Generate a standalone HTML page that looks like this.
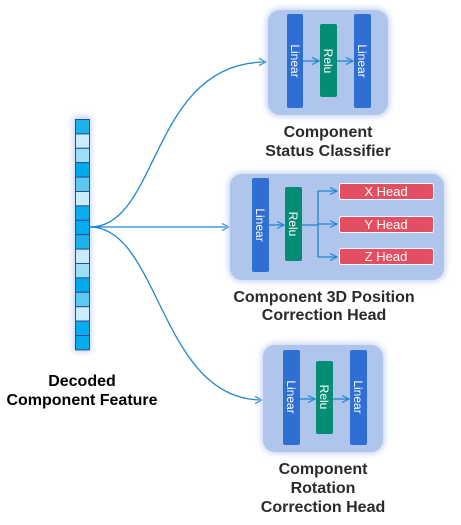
<!DOCTYPE html>
<html><head><meta charset="utf-8"><style>
html,body{margin:0;padding:0;background:#fff;width:461px;height:525px;overflow:hidden}
text{font-family:"Liberation Sans",Arial,sans-serif}
</style></head><body>
<svg width="461" height="525" xmlns="http://www.w3.org/2000/svg">
<defs>
<marker id="a" markerWidth="8" markerHeight="8" refX="7" refY="4" orient="auto" markerUnits="userSpaceOnUse">
<path d="M0,0.5 L7,4 L0,7.5" fill="none" stroke="#1f86d0" stroke-width="1.2"/></marker>
<filter id="g" x="-20%" y="-20%" width="140%" height="140%"><feGaussianBlur stdDeviation="3"/></filter>
</defs>
<rect x="73" y="116" width="18" height="236" fill="#c9d6f5" filter="url(#g)"/>
<g stroke="#2d4e8e" stroke-width="1">
<rect x="75.5" y="119.5" width="14" height="14.4" fill="#1cb2ee"/>
<rect x="75.5" y="133.9" width="14" height="14.4" fill="#c8ecfa"/>
<rect x="75.5" y="148.3" width="14" height="14.4" fill="#9adef7"/>
<rect x="75.5" y="162.7" width="14" height="14.4" fill="#02aaec"/>
<rect x="75.5" y="177.1" width="14" height="14.4" fill="#5bc9f2"/>
<rect x="75.5" y="191.5" width="14" height="14.4" fill="#c8ecfa"/>
<rect x="75.5" y="205.9" width="14" height="14.4" fill="#0aadec"/>
<rect x="75.5" y="220.3" width="14" height="14.4" fill="#05abec"/>
<rect x="75.5" y="234.7" width="14" height="14.4" fill="#1cb2ee"/>
<rect x="75.5" y="249.1" width="14" height="14.4" fill="#c8ecfa"/>
<rect x="75.5" y="263.5" width="14" height="14.4" fill="#9adef7"/>
<rect x="75.5" y="277.9" width="14" height="14.4" fill="#02aaec"/>
<rect x="75.5" y="292.3" width="14" height="14.4" fill="#5bc9f2"/>
<rect x="75.5" y="306.7" width="14" height="14.4" fill="#c8ecfa"/>
<rect x="75.5" y="321.1" width="14" height="14.4" fill="#0aadec"/>
<rect x="75.5" y="335.5" width="14" height="14.4" fill="#05abec"/>
</g>
<g fill="none" stroke="#1f86d0" stroke-width="1.3">
<path d="M90,227 C160,227 150,62 266,62" marker-end="url(#a)"/>
<path d="M90,227 L229,227" marker-end="url(#a)"/>
<path d="M90,227 C160,227 160,400 262,400" marker-end="url(#a)"/>
</g>
<rect x="266" y="8" width="124" height="109" rx="14" fill="#c9d6f5" filter="url(#g)"/>
<rect x="268" y="10" width="120" height="105" rx="12" fill="#afc5ec"/>
<rect x="287" y="14" width="16" height="94" rx="2" fill="#2f6fd3"/>
<rect x="320" y="24" width="17" height="73" rx="2" fill="#048c75"/>
<rect x="354" y="14" width="17" height="94" rx="2" fill="#2f6fd3"/>
<g fill="none" stroke="#1f86d0" stroke-width="1.3"><path d="M303,61 L319,61" marker-end="url(#a)"/><path d="M337,61 L353,61" marker-end="url(#a)"/></g>
<g fill="#fff" font-size="12"><text transform="translate(291,61) rotate(90)" text-anchor="middle">Linear</text><text transform="translate(324,61) rotate(90)" text-anchor="middle">Relu</text><text transform="translate(358,61) rotate(90)" text-anchor="middle">Linear</text></g>
<rect x="228" y="172" width="218" height="110" rx="14" fill="#c9d6f5" filter="url(#g)"/>
<rect x="230" y="174" width="214" height="106" rx="12" fill="#afc5ec"/>
<rect x="252" y="178" width="17" height="94" rx="2" fill="#2f6fd3"/>
<rect x="285" y="187" width="17" height="74" rx="2" fill="#048c75"/>
<g fill="none" stroke="#1f86d0" stroke-width="1.3">
<path d="M269,225 L284,225" marker-end="url(#a)"/>
<path d="M302,225 L318,225"/>
<path d="M318,191 L318,257"/>
<path d="M318,191 L337,191" marker-end="url(#a)"/>
<path d="M318,224 L337,224" marker-end="url(#a)"/>
<path d="M318,257 L337,257" marker-end="url(#a)"/>
</g>
<g stroke="#fff" stroke-width="1" fill="#e34e62">
<rect x="339.5" y="183.5" width="94" height="16" rx="2"/>
<rect x="339.5" y="216.5" width="94" height="16" rx="2"/>
<rect x="339.5" y="248.5" width="94" height="16" rx="2"/>
</g>
<g fill="#fff" font-size="13" text-anchor="middle"><text x="386" y="196">X Head</text><text x="386" y="229">Y Head</text><text x="386" y="261">Z Head</text></g>
<g fill="#fff" font-size="12"><text transform="translate(256,225) rotate(90)" text-anchor="middle">Linear</text><text transform="translate(289,224) rotate(90)" text-anchor="middle">Relu</text></g>
<rect x="261" y="343" width="124" height="111" rx="14" fill="#c9d6f5" filter="url(#g)"/>
<rect x="263" y="345" width="120" height="107" rx="12" fill="#afc5ec"/>
<rect x="283" y="350" width="17" height="95" rx="2" fill="#2f6fd3"/>
<rect x="316" y="361" width="17" height="73" rx="2" fill="#048c75"/>
<rect x="350" y="350" width="17" height="95" rx="2" fill="#2f6fd3"/>
<g fill="none" stroke="#1f86d0" stroke-width="1.3"><path d="M300,399 L315,399" marker-end="url(#a)"/><path d="M333,399 L349,399" marker-end="url(#a)"/></g>
<g fill="#fff" font-size="12"><text transform="translate(287,397) rotate(90)" text-anchor="middle">Linear</text><text transform="translate(320,397) rotate(90)" text-anchor="middle">Relu</text><text transform="translate(354,397) rotate(90)" text-anchor="middle">Linear</text></g>
<g font-size="16" font-weight="bold" text-anchor="middle" fill="#2a2a2a">
<text x="328" y="137">Component</text><text x="328" y="156">Status Classifier</text>
<text x="324" y="302">Component 3D Position</text><text x="324" y="320">Correction Head</text>
<text x="323" y="474">Component</text><text x="323" y="493">Rotation</text><text x="323" y="512">Correction Head</text>
</g>
<g font-size="16" font-weight="bold" text-anchor="middle" fill="#000">
<text x="82" y="386">Decoded</text><text x="82" y="405">Component Feature</text>
</g>
</svg>
</body></html>
